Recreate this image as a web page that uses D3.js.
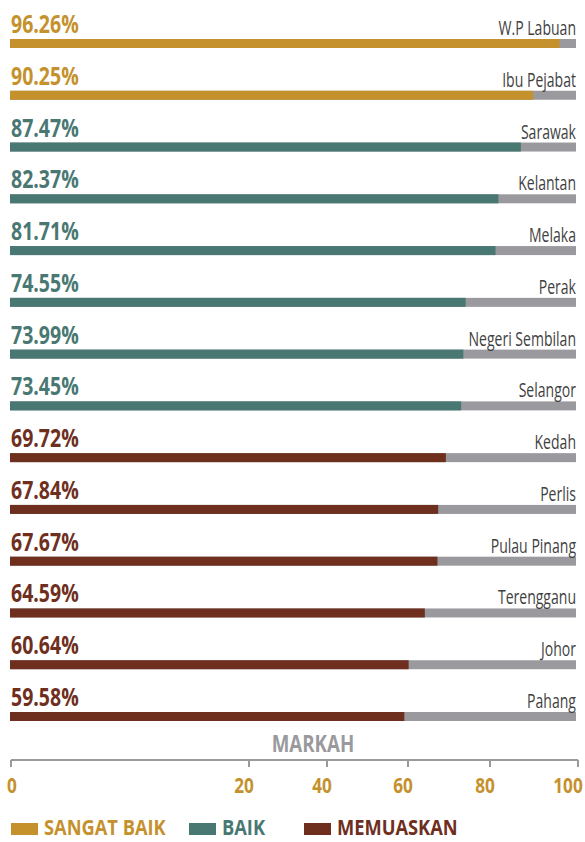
<!DOCTYPE html>
<html><head><meta charset="utf-8">
<script src="https://cdn.jsdelivr.net/npm/d3@7"></script>
<style>html,body{margin:0;padding:0;background:#fff;}svg{display:block;}</style>
</head><body>
<svg id="c" width="585" height="842"></svg>
<script>
const states = ["W.P Labuan","Ibu Pejabat","Sarawak","Kelantan","Melaka","Perak","Negeri Sembilan","Selangor","Kedah","Perlis","Pulau Pinang","Terengganu","Johor","Pahang"];
const scores = [96.26,90.25,87.47,82.37,81.71,74.55,73.99,73.45,69.72,67.84,67.67,64.59,60.64,59.58];
const grades = ["SANGAT BAIK","SANGAT BAIK","BAIK","BAIK","BAIK","BAIK","BAIK","BAIK","MEMUASKAN","MEMUASKAN","MEMUASKAN","MEMUASKAN","MEMUASKAN","MEMUASKAN"];
const gradeNames = ["SANGAT BAIK","BAIK","MEMUASKAN"];
const gradeColors = ["#C4912D","#497873","#6E2F1E"];
const tickValues = [0,20,40,60,80,100];
const axisTitle = "MARKAH";

const svg = d3.select("#c");
const FONT = "'Open Sans', 'Noto Sans', sans-serif";
const CX = 0.78;
const color = d3.scaleOrdinal().domain(gradeNames).range(gradeColors);
// the original axis is drawn with uneven spacing between tick positions
const x = d3.scaleLinear().domain(tickValues).range([10, 247, 325, 406, 488, 576]);
const y = d3.scalePoint().domain(states).range([39, 712]);
const barH = 9;

function ctext(g, tx, ty, s, anchor) {
  return g.append("text").attr("transform", `translate(${tx},${ty}) scale(${s},1)`)
    .attr("text-anchor", anchor || "start").style("font-family", FONT);
}

const rows = svg.append("g");
states.forEach((st, i) => {
  const top = y(st);
  rows.append("rect").attr("x", x(0)).attr("y", top).attr("width", x(100) - x(0)).attr("height", barH).attr("fill", "#9A9A9E");
  rows.append("rect").attr("x", x(0)).attr("y", top).attr("width", x(scores[i]) - x(0)).attr("height", barH).attr("fill", color(grades[i]));
  ctext(rows, 11, top - 6, CX).text(scores[i].toFixed(2) + "%")
    .style("font-size", "25px").style("font-weight", 700).attr("fill", color(grades[i]));
  ctext(rows, 576, top - 4, 0.72, "end").text(st)
    .style("font-size", "19.5px").style("font-weight", 400).attr("fill", "#3F3F3F");
});

// axis
const axisY = 760;
const ax = svg.append("g");
ax.append("line").attr("x1", x(0) + 1).attr("x2", x(100) + 2).attr("y1", axisY).attr("y2", axisY)
  .attr("stroke", "#9A9A9E").attr("stroke-width", 2);
tickValues.forEach(v => {
  const px = v === 0 ? x(v) + 1 : x(v) + 2;
  ax.append("line").attr("x1", px).attr("x2", px).attr("y1", axisY).attr("y2", axisY + 7)
    .attr("stroke", "#9A9A9E").attr("stroke-width", 2);
  const lx = v === 0 ? x(v) + 2 : (v === 100 ? x(v) - 8 : x(v) - 3);
  ctext(ax, lx, 793, CX, "middle").text(v).style("font-size", "22px").style("font-weight", 700).attr("fill", "#C4912D");
});
ctext(ax, 313, 752, CX, "middle").text(axisTitle).style("font-size", "24px").style("font-weight", 700).attr("fill", "#9A9A9E");

// legend
const lg = svg.append("g");
const legX = [11, 189, 304];
gradeNames.forEach((g, i) => {
  lg.append("rect").attr("x", legX[i]).attr("y", 823).attr("width", 27).attr("height", 12).attr("fill", color(g));
  ctext(lg, legX[i] + 33, 835, 0.87).text(g).style("font-size", "21px").style("font-weight", 700).attr("fill", color(g));
});
</script>
</body></html>
